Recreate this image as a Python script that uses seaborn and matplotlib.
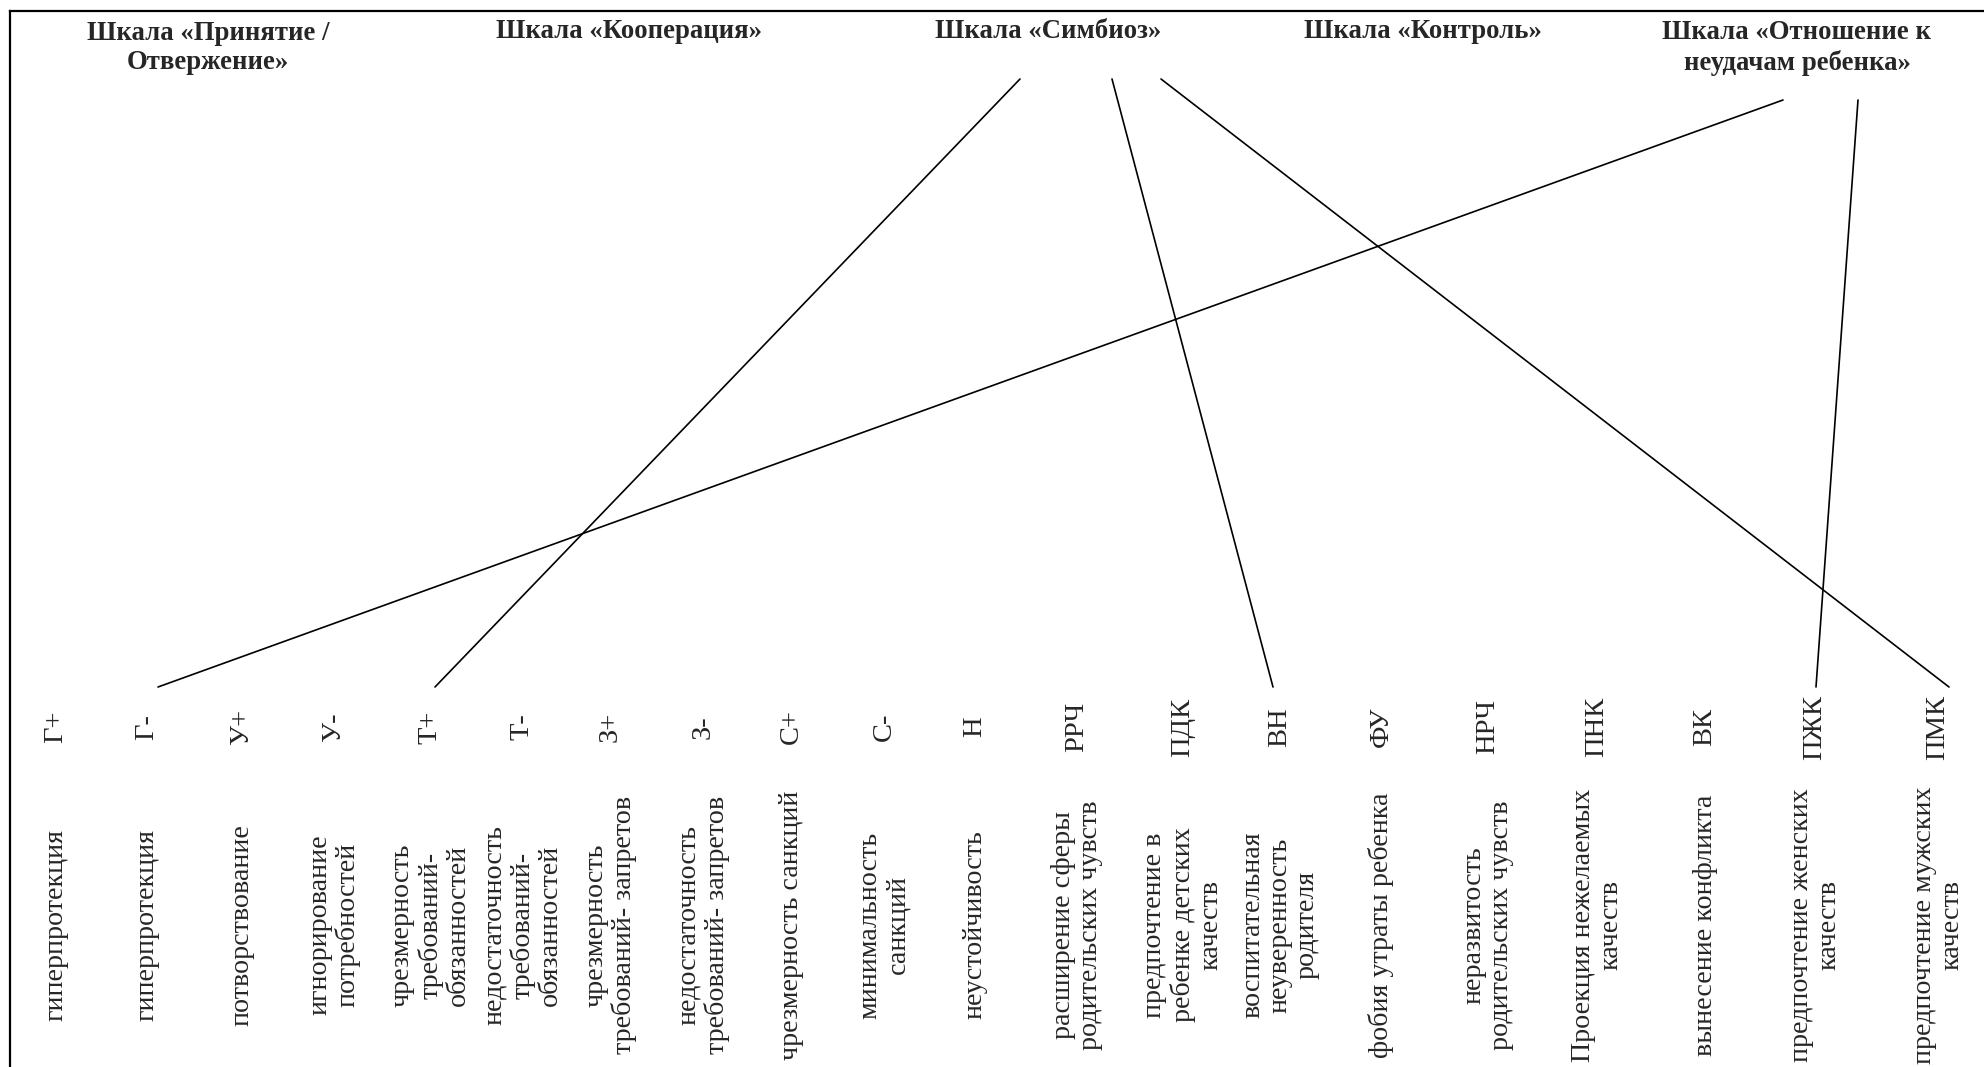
import matplotlib
matplotlib.use("Agg")
import matplotlib.pyplot as plt
import seaborn as sns
import pandas as pd

# ---- data ----
codes = ["Г+", "Г-", "У+", "У-", "Т+", "Т-", "З+", "З-", "С+", "С-", "Н",
         "РРЧ", "ПДК", "ВН", "ФУ", "НРЧ", "ПНК", "ВК", "ПЖК", "ПМК"]
descriptions = [
    "гиперпротекция",
    "гиперпротекция",
    "потворствование",
    "игнорирование\nпотребностей",
    "чрезмерность\nтребований-\nобязанностей",
    "недостаточность\nтребований-\nобязанностей",
    "чрезмерность\nтребований- запретов",
    "недостаточность\nтребований- запретов",
    "чрезмерность санкций",
    "минимальность\nсанкций",
    "неустойчивость",
    "расширение сферы\nродительских чувств",
    "предпочтение в\nребенке детских\nкачеств",
    "воспитательная\nнеуверенность\nродителя",
    "фобия утраты ребенка",
    "неразвитость\nродительских чувств",
    "Проекция нежелаемых\nкачеств",
    "вынесение конфликта",
    "предпочтение женских\nкачеств",
    "предпочтение мужских\nкачеств",
]
scales = ["Шкала «Принятие /\nОтвержение»", "Шкала «Кооперация»", "Шкала «Симбиоз»",
          "Шкала «Контроль»", "Шкала «Отношение к\nнеудачам ребенка»"]
# connections: (scale index, code)
link_scale = [4, 2, 2, 2, 4]
link_code = ["Г-", "Т+", "ВН", "ПМК", "ПЖК"]

# ---- layout (pixel space) ----
W, H = 1984, 1067
col_x = [56, 147, 242, 334, 430, 522, 610, 703, 791, 884, 975,
         1077, 1183, 1280, 1381, 1488, 1597, 1705, 1815, 1938]
scale_x = [208, 629, 1048, 1423, 1797]
link_top_dx = [-14, -28, 64, 113, 61]
link_bot_dx = [11, 5, -7, 11, 1]
top_y_single, top_y_double = 79, 100
bottom_y = 687
code_y = 727
desc_y = 925

sns.set_theme(style="white")
plt.rcParams["font.family"] = ["Liberation Serif", "DejaVu Serif"]

fig = plt.figure(figsize=(W / 100, H / 100), dpi=100)
ax = fig.add_axes([0, 0, 1, 1])
ax.set_xlim(0, W)
ax.set_ylim(H, 0)
ax.axis("off")

# frame (left and top borders of the table)
ax.plot([10, 10], [H, 11], color="black", lw=1.6, solid_capstyle="projecting")
ax.plot([10, W], [11, 11], color="black", lw=1.6, solid_capstyle="projecting")

# scale headers
for s, x in zip(scales, scale_x):
    y = 48 if "\n" in s else 32
    ax.text(x, y, s, ha="center", va="center", fontsize=19.3, fontweight="bold",
            linespacing=1.22, multialignment="center")

# codes and descriptions
for c, d, x in zip(codes, descriptions, col_x):
    ax.text(x, code_y, c, rotation=90, ha="center", va="center", fontsize=20.5)
    ax.text(x, desc_y, d, rotation=90, ha="center", va="center", fontsize=20.2,
            linespacing=1.13, multialignment="center")

# connection lines
rows = []
for i, (si, code) in enumerate(zip(link_scale, link_code)):
    ty = top_y_double if "\n" in scales[si] else top_y_single
    rows.append({"link": i, "order": 0, "x": scale_x[si] + link_top_dx[i], "y": ty})
    rows.append({"link": i, "order": 1,
                 "x": col_x[codes.index(code)] + link_bot_dx[i], "y": bottom_y})
df = pd.DataFrame(rows)
sns.lineplot(data=df, x="x", y="y", units="link", estimator=None, sort=False,
             color="black", lw=1.2, ax=ax, legend=False)
ax.set_xlim(0, W)
ax.set_ylim(H, 0)
ax.axis("off")

fig.savefig("out.png", dpi=100)
